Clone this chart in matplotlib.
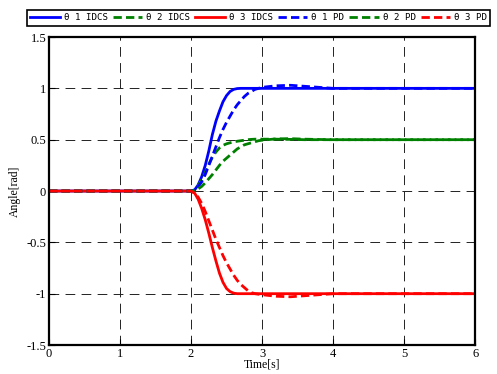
import numpy as np
import matplotlib
matplotlib.use('Agg')
import matplotlib.pyplot as plt

# time samples (s) and joint angles (rad)
t = [0.0, 2.0, 2.05, 2.1, 2.15, 2.2, 2.25, 2.3, 2.35, 2.4, 2.45, 2.5, 2.55, 2.6, 2.65,
     2.7, 2.75, 2.8, 2.85, 2.9, 2.95, 3.0, 3.2, 3.4, 3.6, 3.8, 4.0, 5.0, 6.0]

th1_idcs = [0, 0, 0.01, 0.06, 0.14, 0.25, 0.39, 0.55, 0.68, 0.78, 0.87, 0.93, 0.97, 0.99, 0.998,
            1.0, 1.0, 1.0, 1.0, 1.0, 1.0, 1.0, 1.0, 1.0, 1.0, 1.0, 1.0, 1.0, 1.0]
th2_idcs = [0, 0, 0.01, 0.05, 0.11, 0.18, 0.26, 0.33, 0.38, 0.42, 0.445, 0.46, 0.47, 0.478, 0.485,
            0.49, 0.495, 0.5, 0.503, 0.505, 0.505, 0.505, 0.505, 0.503, 0.5, 0.5, 0.5, 0.5, 0.5]
th3_idcs = [0, 0, -0.02, -0.08, -0.17, -0.28, -0.41, -0.55, -0.68, -0.8, -0.89, -0.95, -0.98, -0.995, -1.0,
            -1.0, -1.0, -1.0, -1.0, -1.0, -1.0, -1.0, -1.0, -1.0, -1.0, -1.0, -1.0, -1.0, -1.0]
th1_pd = [0, 0, 0.01, 0.04, 0.09, 0.16, 0.25, 0.34, 0.43, 0.52, 0.6, 0.67, 0.73, 0.79, 0.84,
          0.88, 0.92, 0.95, 0.97, 0.99, 1.0, 1.01, 1.025, 1.03, 1.02, 1.01, 1.0, 1.0, 1.0]
th2_pd = [0, 0, 0.005, 0.02, 0.045, 0.08, 0.12, 0.16, 0.205, 0.25, 0.29, 0.32, 0.35, 0.38, 0.41,
          0.43, 0.45, 0.46, 0.47, 0.48, 0.49, 0.495, 0.508, 0.51, 0.505, 0.502, 0.5, 0.5, 0.5]
th3_pd = [0, 0, -0.02, -0.06, -0.12, -0.2, -0.29, -0.38, -0.47, -0.55, -0.63, -0.7, -0.76, -0.82, -0.87,
          -0.91, -0.94, -0.97, -0.99, -1.0, -1.005, -1.01, -1.025, -1.03, -1.02, -1.01, -1.0, -1.0, -1.0]

xticks = [0, 1, 2, 3, 4, 5, 6]
yticks = [-1.5, -1, -0.5, 0, 0.5, 1, 1.5]
ylabels = ['-1.5', '-1', '-0.5', '0', '0.5', '1', '1.5']

plt.rcParams['font.family'] = ['Liberation Serif']

fig = plt.figure(figsize=(4.97, 3.74), dpi=100)
ax = fig.add_axes([0.0986, 0.0775, 0.8574, 0.8235])

dash = (0, (3, 1.5))
ax.plot(t, th1_idcs, color='#0000ff', lw=2, label='θ 1 IDCS')
ax.plot(t, th2_idcs, color='#008000', lw=2, ls=dash, label='θ 2 IDCS')
ax.plot(t, th3_idcs, color='#ff0000', lw=2, label='θ 3 IDCS')
ax.plot(t, th1_pd, color='#0000ff', lw=2, ls=dash, label='θ 1 PD')
ax.plot(t, th2_pd, color='#008000', lw=2, ls=dash, label='θ 2 PD')
ax.plot(t, th3_pd, color='#ff0000', lw=2, ls=dash, label='θ 3 PD')

ax.set_xlim(0, 6)
ax.set_ylim(-1.5, 1.5)
ax.set_xticks(xticks)
ax.set_xticklabels([str(v) for v in xticks])
ax.set_yticks(yticks)
ax.set_yticklabels(ylabels)
ax.tick_params(direction='in', length=4, width=0.8, labelsize=9, pad=2)
ax.grid(True, color='#222222', ls=(0, (10, 6.5)), lw=0.7)
for s in ax.spines.values():
    s.set_linewidth(1.6)

ax.set_xlabel('Time[s]', fontsize=8.5, labelpad=-1)
ax.set_ylabel('Angle[rad]', fontsize=8.5, labelpad=4)

leg = fig.legend(loc='upper left', bbox_to_anchor=(0.0543, 0.973), ncol=6,
                 prop={'family': ['DejaVu Sans Mono'], 'size': 6.6},
                 handlelength=3.2, handletextpad=0.45, columnspacing=0.55,
                 borderpad=0.35, borderaxespad=0, fancybox=False, framealpha=1,
                 edgecolor='black')
leg.get_frame().set_linewidth(1.2)

fig.savefig('out.png', dpi=100)
